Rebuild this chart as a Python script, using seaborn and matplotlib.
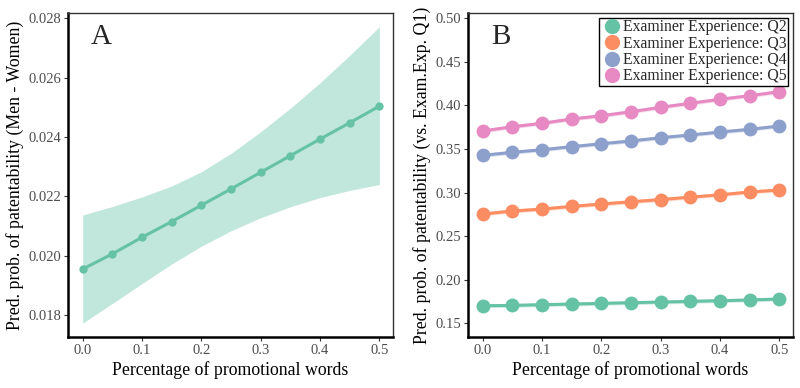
import numpy as np
import pandas as pd
import matplotlib
matplotlib.use('Agg')
import matplotlib.pyplot as plt
import seaborn as sns

# data
promo = [0.0, 0.05, 0.1, 0.15, 0.2, 0.25, 0.3, 0.35, 0.4, 0.45, 0.5]

gap_fit = [0.01955, 0.02006, 0.02062, 0.02115, 0.0217, 0.02225, 0.02281, 0.02337, 0.02393, 0.02448, 0.02504]
gap_hi = [0.02137, 0.02166, 0.02198, 0.02235, 0.02283, 0.02345, 0.02418, 0.02497, 0.02583, 0.02675, 0.02772]
gap_lo = [0.01773, 0.01839, 0.01906, 0.01972, 0.02032, 0.02084, 0.02128, 0.02165, 0.02196, 0.0222, 0.0224]

q2 = [0.1702, 0.1706, 0.1714, 0.1721, 0.1729, 0.1737, 0.1744, 0.1752, 0.1760, 0.1768, 0.1779]
q3 = [0.2754, 0.2789, 0.2811, 0.2842, 0.2869, 0.2895, 0.2920, 0.2948, 0.2975, 0.3007, 0.3030]
q4 = [0.3428, 0.3462, 0.3492, 0.3527, 0.3561, 0.3592, 0.3630, 0.3661, 0.3695, 0.3726, 0.3764]
q5 = [0.3707, 0.3756, 0.3795, 0.3845, 0.3882, 0.3928, 0.3979, 0.4025, 0.4071, 0.4112, 0.4158]
groups = ['Examiner Experience: Q2', 'Examiner Experience: Q3',
          'Examiner Experience: Q4', 'Examiner Experience: Q5']
band_half = 0.0022

sns.set_theme(style="white")
plt.rcParams['font.family'] = ['Liberation Serif', 'DejaVu Serif']
pal = sns.color_palette('Set2', 4)

fig = plt.figure(figsize=(8, 3.88), dpi=100)
axA = fig.add_axes([0.085, 0.1314, 0.40625, 0.8351])
axB = fig.add_axes([0.585, 0.1314, 0.40625, 0.8351])

def style_axes(ax):
    for side in ['top', 'right']:
        ax.spines[side].set_color('#333333')
        ax.spines[side].set_linewidth(1.0)
    for side in ['left', 'bottom']:
        ax.spines[side].set_color('black')
        ax.spines[side].set_linewidth(1.8)
    ax.tick_params(axis='both', which='both', direction='out', length=3, width=0.8,
                   color='#333333', labelcolor='#4d4d4d', labelsize=10.5,
                   left=True, bottom=True, pad=2)
    ax.set_xlabel('Percentage of promotional words', fontsize=12.8, color='black', labelpad=3)
    ax.set_xticks(promo[::2])
    ax.set_xticklabels([f'{v:.1f}' for v in promo[::2]])
    ax.set_xlim(-0.0247, 0.523)

#%% Panel A
dfA = pd.DataFrame({'promo': promo, 'gap': gap_fit})
axA.fill_between(promo, gap_lo, gap_hi, color=pal[0], alpha=0.4, linewidth=0)
sns.lineplot(data=dfA, x='promo', y='gap', ax=axA, color=pal[0], linewidth=2.2,
             marker='o', markersize=6, markeredgewidth=0)
axA.set_ylim(0.01726, 0.02818)
axA.set_yticks([0.018, 0.020, 0.022, 0.024, 0.026, 0.028])
axA.set_yticklabels(['0.018', '0.020', '0.022', '0.024', '0.026', '0.028'])
axA.set_ylabel('Pred. prob. of patentability (Men - Women)', fontsize=12.8, color='black', labelpad=3)
style_axes(axA)
axA.text(0.07, 0.965, 'A', transform=axA.transAxes, fontsize=21, va='top', ha='left')

#%% Panel B
dfB = pd.DataFrame({
    'promo': promo * 4,
    'prob': q2 + q3 + q4 + q5,
    'group': [g for g in groups for _ in promo],
})
for i, vals in enumerate([q2, q3, q4, q5]):
    axB.fill_between(promo, np.array(vals) - band_half, np.array(vals) + band_half,
                     color=pal[i], alpha=0.3, linewidth=0)
sns.lineplot(data=dfB, x='promo', y='prob', hue='group', hue_order=groups, palette=pal,
             ax=axB, linewidth=2.2, marker='o', markersize=10, markeredgewidth=0)
axB.set_ylim(0.1343, 0.5061)
axB.set_yticks([0.15, 0.20, 0.25, 0.30, 0.35, 0.40, 0.45, 0.50])
axB.set_yticklabels([f'{v:.2f}' for v in [0.15, 0.20, 0.25, 0.30, 0.35, 0.40, 0.45, 0.50]])
axB.set_ylabel('Pred. prob. of patentability (vs. Exam.Exp. Q1)', fontsize=12.8, color='black', labelpad=3)
style_axes(axB)
axB.text(0.07, 0.965, 'B', transform=axB.transAxes, fontsize=21, va='top', ha='left')

handles = [plt.Line2D([], [], linestyle='none', marker='o', markersize=11,
                      markeredgewidth=0, color=pal[i]) for i in range(4)]
leg = axB.legend(handles, groups, loc='upper right', bbox_to_anchor=(0.985, 0.985),
                 fontsize=11.3, frameon=True, fancybox=False, framealpha=1,
                 borderpad=0.1, labelspacing=0.02, handletextpad=0.0,
                 handlelength=1.4, borderaxespad=0)
leg.get_frame().set_edgecolor('black')
leg.get_frame().set_linewidth(1.0)

fig.savefig('out.png', dpi=100)
